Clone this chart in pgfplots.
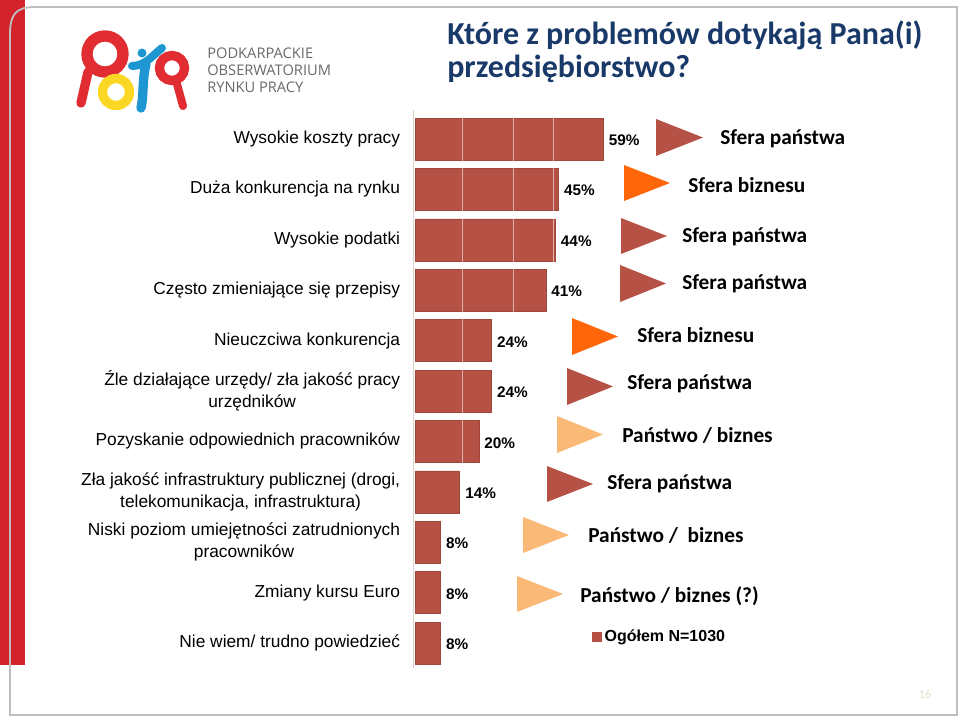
\documentclass[border=0pt]{standalone}
\usepackage{pgfplots}
\pgfplotsset{compat=1.18}
\usepackage{fontspec}
\setmainfont{Liberation Sans}
\newfontfamily\calibri{Carlito}
\newfontfamily\opensans{Open Sans}
\definecolor{barc}{RGB}{181,82,69}
\definecolor{bardark}{RGB}{160,70,58}
\definecolor{orangeT}{RGB}{255,102,10}
\definecolor{lightT}{RGB}{250,185,118}
\definecolor{titleblue}{RGB}{25,58,105}
\definecolor{framered}{RGB}{210,35,42}
\definecolor{framegrey}{RGB}{190,190,190}
\definecolor{axisgrey}{RGB}{225,210,200}
\definecolor{logored}{RGB}{225,45,50}
\definecolor{logoyellow}{RGB}{250,215,35}
\definecolor{logoblue}{RGB}{30,150,210}
\definecolor{logotext}{RGB}{105,105,105}
\definecolor{pagenum}{RGB}{228,224,200}
\pgfplotstableread{
y val
10 59
9 45
8 44
7 41
6 24
5 24
4 20
3 14
2 8
1 8
0 8
}\datatab
\begin{document}
\begin{tikzpicture}
\begin{scope}[x=0.75pt,y=-0.75pt]
\useasboundingbox (0,0) rectangle (960,718);
% frame
\fill[framered] (0,0) rectangle (25,665);
\draw[framegrey, line width=1.4pt] (10,715) -- (10,35) .. controls (10,15) and (15,7) .. (35,7) -- (957,7) -- (957,715) -- cycle;
% logo
\draw[logored, line width=8.5pt] (105,54) circle (18);
\draw[logored, line width=7pt, line cap=round] (88,72) -- (81,103);
\draw[logoyellow, line width=7pt] (116,92) circle (13.5);
\fill[logoblue] (142,53) circle (4.5);
\draw[logoblue, line width=6pt, line cap=round] (132,66) .. controls (145,66) and (152,56) .. (162,48);
\draw[logoblue, line width=7pt, line cap=round] (146,64) .. controls (142,80) and (144,95) .. (141,108);
\draw[logored, line width=7pt] (172,68) circle (12.5);
\draw[logored, line width=6pt, line cap=round] (177,84) -- (183,106);
\node[anchor=base west, inner sep=0pt, align=left, text=logotext, font=\opensans\fontsize{11}{12.4}\selectfont] at (207,92) {PODKARPACKIE\\OBSERWATORIUM\\RYNKU PRACY};
% title
\node[anchor=base west, inner sep=0pt, align=left, text=titleblue, font=\calibri\bfseries\fontsize{24}{24.4}\selectfont] at (447,77) {Które z problemów dotykają Pana(i)\\przedsiębiorstwo?};
% y axis line
\draw[axisgrey, line width=0.6pt] (413,110) -- (413,668);
\end{scope}
\begin{axis}[
  at={(311.25pt,-501.15pt)}, anchor=south west,
  width=239.25pt, height=415.8pt, scale only axis,
  xmin=0, xmax=100, ymin=-0.5, ymax=10.5,
  xbar, bar width=31.5pt,
  axis line style={draw=none},
  major tick length=0pt,
  xtick={15,30.7,43.3}, xticklabels={},
  xmajorgrids, grid style={white, opacity=0.55, line width=0.6pt},
  axis on top,
  ytick={0,...,10},
  yticklabels={
    Nie wiem/ trudno powiedzieć,
    Zmiany kursu Euro,
    {Niski poziom umiejętności zatrudnionych\\pracowników},
    {Zła jakość infrastruktury publicznej (drogi,\\telekomunikacja, infrastruktura)},
    Pozyskanie odpowiednich pracowników,
    {Źle działające urzędy/ zła jakość pracy\\urzędników},
    Nieuczciwa konkurencja,
    Często zmieniające się przepisy,
    Wysokie podatki,
    Duża konkurencja na rynku,
    Wysokie koszty pracy},
  yticklabel style={font=\fontsize{13}{16.5}\selectfont, align=center, inner sep=0pt, xshift=-11pt},
  /pgf/number format/assume math mode=true,
  point meta=x,
  nodes near coords={\pgfmathprintnumber{\pgfplotspointmeta}\%},
  nodes near coords style={font=\bfseries\fontsize{11.5}{13}\selectfont, anchor=west, inner sep=0pt, xshift=4pt, yshift=-1pt},
  clip=false,
  legend style={at={(axis cs:55.5,0.12)}, anchor=west, draw=none, fill=none, inner sep=0pt,
     font=\bfseries\fontsize{12}{14}\selectfont, legend cell align=left},
  legend image code/.code={\fill[barc] (0pt,-3.4pt) rectangle (6.8pt,3.4pt);},
]
\addplot[fill=barc, draw=bardark, line width=0.4pt] table[x=val, y=y] {\datatab};
\addlegendentry{Ogółem N=1030}
\end{axis}
\begin{scope}[x=0.75pt,y=-0.75pt]
% triangles and labels
\fill[barc] (656,119) -- (703,137.5) -- (656,156) -- cycle;
\node[anchor=west, inner sep=0pt, font=\calibri\bfseries\fontsize{16}{18}\selectfont] at (720,139) {Sfera państwa};
\fill[orangeT] (624,165) -- (670,183) -- (624,201) -- cycle;
\node[anchor=west, inner sep=0pt, font=\calibri\bfseries\fontsize{16}{18}\selectfont] at (688,185) {Sfera biznesu};
\fill[barc] (621,218) -- (667,236) -- (621,254) -- cycle;
\node[anchor=west, inner sep=0pt, font=\calibri\bfseries\fontsize{16}{18}\selectfont] at (682,237) {Sfera państwa};
\fill[barc] (620,265) -- (666,283.5) -- (620,302) -- cycle;
\node[anchor=west, inner sep=0pt, font=\calibri\bfseries\fontsize{16}{18}\selectfont] at (682,284) {Sfera państwa};
\fill[orangeT] (572,318) -- (618,336.5) -- (572,355) -- cycle;
\node[anchor=west, inner sep=0pt, font=\calibri\bfseries\fontsize{16}{18}\selectfont] at (637,335) {Sfera biznesu};
\fill[barc] (567,368) -- (613,386.5) -- (567,405) -- cycle;
\node[anchor=west, inner sep=0pt, font=\calibri\bfseries\fontsize{16}{18}\selectfont] at (627,384) {Sfera państwa};
\fill[lightT] (557,416) -- (603,434.5) -- (557,453) -- cycle;
\node[anchor=west, inner sep=0pt, font=\calibri\bfseries\fontsize{16}{18}\selectfont] at (622,435) {Państwo / biznes};
\fill[barc] (547,466) -- (593,484) -- (547,502) -- cycle;
\node[anchor=west, inner sep=0pt, font=\calibri\bfseries\fontsize{16}{18}\selectfont] at (607,484) {Sfera państwa};
\fill[lightT] (523,517) -- (569,535) -- (523,553) -- cycle;
\node[anchor=west, inner sep=0pt, font=\calibri\bfseries\fontsize{16}{18}\selectfont] at (588,535) {Państwo /\ \ biznes};
\fill[lightT] (517,576) -- (563,594) -- (517,612) -- cycle;
\node[anchor=west, inner sep=0pt, font=\calibri\bfseries\fontsize{16}{18}\selectfont] at (580,596) {Państwo / biznes (?)};
% page number
\node[anchor=center, inner sep=0pt, text=pagenum, font=\calibri\fontsize{9}{10}\selectfont] at (925,694) {16};
\end{scope}
\end{tikzpicture}
\end{document}
